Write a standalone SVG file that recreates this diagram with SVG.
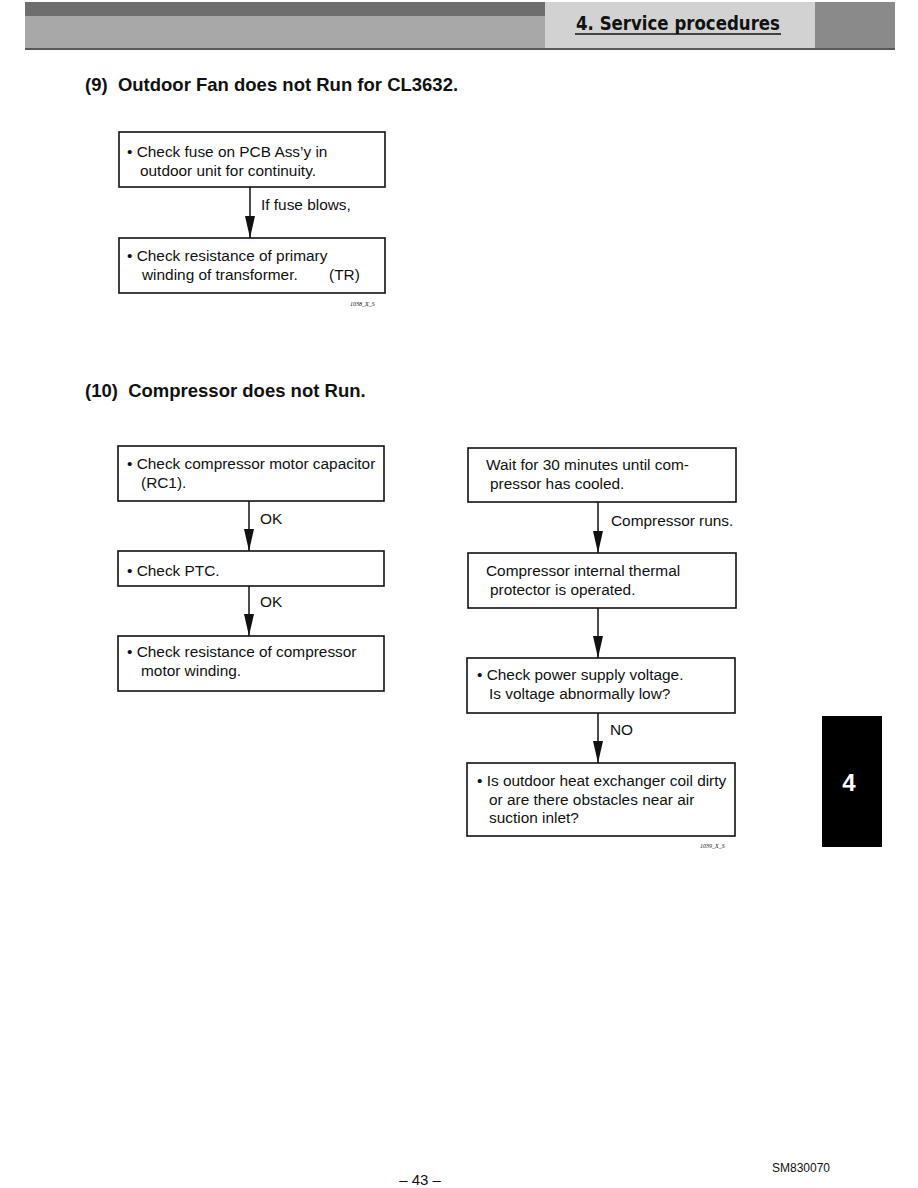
<svg xmlns="http://www.w3.org/2000/svg" width="918" height="1188" viewBox="0 0 918 1188">
<defs>
<style>
.box{fill:#fff;stroke:#111;stroke-width:1.6}
.t{font-family:"Liberation Sans",Arial,sans-serif;font-size:15.4px;fill:#111}
.h{font-family:"Liberation Sans",Arial,sans-serif;font-size:18.5px;font-weight:bold;fill:#111}
.c{stroke:#111;stroke-width:1.5;fill:none}
.code{font-family:"Liberation Serif",serif;font-size:6px;font-style:italic;fill:#111}
</style>
<marker id="ah" markerWidth="22" markerHeight="10" refX="22" refY="5" orient="auto" markerUnits="userSpaceOnUse" viewBox="0 0 22 10">
<path d="M0,0 L22,5 L0,10 Z" fill="#111"/>
</marker>
</defs>
<rect width="918" height="1188" fill="#fff"/>
<g id="header">
<rect x="25" y="2" width="870" height="46" fill="#a8a8a8"/>
<rect x="25" y="2" width="520" height="14" fill="#6e6e6e"/>
<rect x="545" y="2" width="270" height="46" fill="#d2d2d2"/>
<rect x="815" y="2" width="80" height="46" fill="#8a8a8a"/>
<line x1="25" y1="49" x2="895" y2="49" stroke="#222" stroke-width="1.5"/>
<text x="576" y="30" font-family="'DejaVu Sans Condensed','DejaVu Sans',sans-serif" font-size="19" font-weight="bold" fill="#111" textLength="204" lengthAdjust="spacingAndGlyphs">4. Service procedures</text>
<line x1="575" y1="34" x2="781" y2="34" stroke="#111" stroke-width="1.5"/>
</g>
<text class="h" x="85" y="91" xml:space="preserve">(9)  Outdoor Fan does not Run for CL3632.</text>
<text class="h" x="85" y="397" xml:space="preserve">(10)  Compressor does not Run.</text>
<g id="connectors">
<line class="c" x1="250" y1="187" x2="250" y2="238" marker-end="url(#ah)"/>
<line class="c" x1="249" y1="501" x2="249" y2="551" marker-end="url(#ah)"/>
<line class="c" x1="249" y1="586" x2="249" y2="636" marker-end="url(#ah)"/>
<line class="c" x1="598" y1="502" x2="598" y2="553" marker-end="url(#ah)"/>
<line class="c" x1="598" y1="608" x2="598" y2="658" marker-end="url(#ah)"/>
<line class="c" x1="598" y1="713" x2="598" y2="763" marker-end="url(#ah)"/>
<text class="t" x="261" y="210">If fuse blows,</text>
<text class="t" x="260" y="524">OK</text>
<text class="t" x="260" y="607">OK</text>
<text class="t" x="611" y="526">Compressor runs.</text>
<text class="t" x="610" y="735">NO</text>
</g>
<g id="n1">
<rect class="box" x="119" y="132" width="266" height="55"/>
<text class="t" x="127" y="157">• Check fuse on PCB Ass’y in</text>
<text class="t" x="140" y="176">outdoor unit for continuity.</text>
</g>
<g id="n2">
<rect class="box" x="119" y="238" width="266" height="55"/>
<text class="t" x="127" y="261">• Check resistance of primary</text>
<text class="t" x="142" y="280">winding of transformer.</text>
<text class="t" x="329" y="280">(TR)</text>
</g>
<text class="code" x="350" y="306">1038_X_S</text>
<g id="n3">
<rect class="box" x="118" y="446" width="266" height="55"/>
<text class="t" x="127" y="469">• Check compressor motor capacitor</text>
<text class="t" x="141" y="488">(RC1).</text>
</g>
<g id="n4">
<rect class="box" x="118" y="551" width="266" height="35"/>
<text class="t" x="127" y="576">• Check PTC.</text>
</g>
<g id="n5">
<rect class="box" x="118" y="636" width="266" height="55"/>
<text class="t" x="127" y="657">• Check resistance of compressor</text>
<text class="t" x="141" y="676">motor winding.</text>
</g>
<g id="n6">
<rect class="box" x="468" y="448" width="268" height="54"/>
<text class="t" x="486" y="470">Wait for 30 minutes until com-</text>
<text class="t" x="490" y="489">pressor has cooled.</text>
</g>
<g id="n7">
<rect class="box" x="468" y="553" width="268" height="55"/>
<text class="t" x="486" y="576">Compressor internal thermal</text>
<text class="t" x="490" y="595">protector is operated.</text>
</g>
<g id="n8">
<rect class="box" x="467" y="658" width="268" height="55"/>
<text class="t" x="477" y="680">• Check power supply voltage.</text>
<text class="t" x="489" y="699">Is voltage abnormally low?</text>
</g>
<g id="n9">
<rect class="box" x="467" y="763" width="268" height="73"/>
<text class="t" x="477" y="786">• Is outdoor heat exchanger coil dirty</text>
<text class="t" x="489" y="805">or are there obstacles near air</text>
<text class="t" x="489" y="823">suction inlet?</text>
</g>
<text class="code" x="700" y="848">1039_X_S</text>
<g id="tab">
<rect x="822" y="716" width="60" height="131" fill="#000"/>
<text x="849" y="791" font-family="'Liberation Sans',Arial,sans-serif" font-size="24" font-weight="bold" fill="#fff" text-anchor="middle">4</text>
</g>
<text x="420" y="1185" font-family="'Liberation Sans',Arial,sans-serif" font-size="15" fill="#111" text-anchor="middle">– 43 –</text>
<text x="772" y="1172" font-family="'Liberation Sans',Arial,sans-serif" font-size="12" fill="#111">SM830070</text>
</svg>
